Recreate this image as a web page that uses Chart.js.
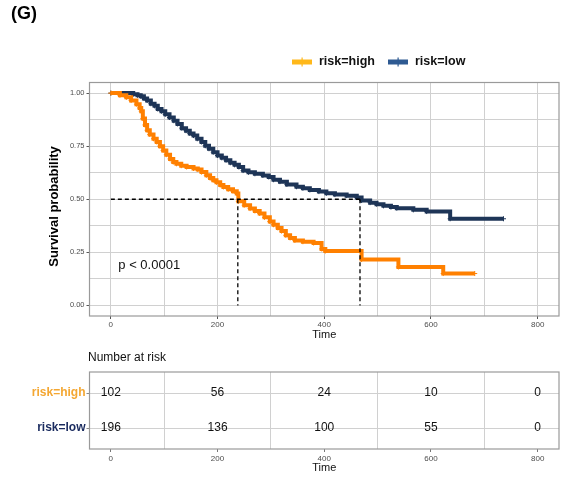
<!DOCTYPE html>
<html><head><meta charset="utf-8">
<script src="https://cdn.jsdelivr.net/npm/chart.js@4"></script>
<style>
html,body{margin:0;padding:0;background:#fff;}
#wrap{position:relative;width:569px;height:481px;background:#fff;}
#c1{position:absolute;left:0;top:0;width:569px;height:345px;}
#c2{position:absolute;left:0;top:345px;width:569px;height:136px;}
</style></head><body>
<div id="wrap">
<canvas id="c1" width="569" height="345"></canvas>
<canvas id="c2" width="569" height="136"></canvas>
</div>
<script>
// ---- data ----
const highTimes = [0,17,29,38,48,54,57,60,64,68,73,80,86,92,98,104,111,117,123,132,142,155,163,170,179,186,192,198,205,211,220,229,236,239,250,261,270,279,288,298,305,313,320,328,336,345,360,380,395,402,470,539,623,682];
const highSurv  = [1.0,0.99,0.98,0.965,0.948,0.93,0.915,0.88,0.85,0.825,0.805,0.785,0.77,0.75,0.73,0.71,0.69,0.675,0.667,0.658,0.652,0.645,0.64,0.628,0.613,0.60,0.59,0.58,0.567,0.558,0.547,0.538,0.527,0.49,0.472,0.456,0.445,0.433,0.415,0.395,0.38,0.365,0.35,0.33,0.318,0.306,0.30,0.294,0.266,0.256,0.216,0.181,0.15,0.15];
const lowTimes  = [0,42,50,56,62,68,75,82,88,95,102,110,118,125,133,141,148,155,162,170,177,184,192,200,208,216,224,232,240,248,258,270,285,296,305,317,330,348,360,373,390,404,420,442,461,470,486,498,511,525,536,567,592,636,736];
const lowSurv   = [1.0,0.995,0.99,0.985,0.975,0.965,0.95,0.94,0.925,0.915,0.90,0.885,0.87,0.855,0.835,0.823,0.81,0.80,0.785,0.77,0.752,0.738,0.722,0.706,0.695,0.684,0.672,0.662,0.652,0.635,0.627,0.62,0.612,0.605,0.592,0.583,0.57,0.559,0.552,0.544,0.536,0.528,0.522,0.517,0.508,0.494,0.484,0.477,0.469,0.463,0.458,0.45,0.442,0.408,0.408];
const medianHigh = 238;
const medianLow = 467;
const pText = "p < 0.0001";
const xTicks = [0,100,200,300,400,500,600,700,800];
const yTicks = [0,0.125,0.25,0.375,0.5,0.625,0.75,0.875,1];
const riskTimes = [0,200,400,600,800];
const riskHigh = [102,56,24,10,0];
const riskLow  = [196,136,100,55,0];
const groupNames = ["risk=high","risk=low"];

// ---- styles ----
const FONT = "'Liberation Sans', Arial, sans-serif";
const cHigh = '#FF8000', cLow = '#1E3557';
const cLegHigh = '#FFB81A', cLegLow = '#2E5A92';
const cTabHigh = '#F4A732', cTabLow = '#1A2B5F';
const gridCol = '#d0d0d0';

const isMajorY = v => Math.abs(v*4 - Math.round(v*4)) < 1e-9;
const isMajorX = v => Math.abs(v/200 - Math.round(v/200)) < 1e-9;

const borderPlugin = {
  id: 'panelBorder',
  afterDatasetsDraw(chart) {
    const {ctx, chartArea: a} = chart;
    ctx.save();
    ctx.strokeStyle = '#9a9a9a';
    ctx.lineWidth = 1.2;
    ctx.strokeRect(a.left, a.top, a.right - a.left, a.bottom - a.top);
    ctx.restore();
  }
};

const annoPlugin = {
  id: 'anno',
  afterDraw(chart) {
    const {ctx} = chart;
    const xs = chart.scales.x, ys = chart.scales.y;
    ctx.save();
    ctx.fillStyle = '#000';
    ctx.font = `bold 18px ${FONT}`;
    ctx.textBaseline = 'middle';
    ctx.textAlign = 'left';
    ctx.fillText('(G)', 11, 14);
    const items = [
      {x: 292, col: cLegHigh, text: groupNames[0]},
      {x: 388, col: cLegLow, text: groupNames[1]}
    ];
    items.forEach(it => {
      ctx.fillStyle = it.col;
      ctx.fillRect(it.x, 59.5, 20, 5);
      ctx.fillRect(it.x + 9.5, 57.5, 1.2, 9);
      ctx.fillStyle = '#111';
      ctx.font = `bold 12.5px ${FONT}`;
      ctx.fillText(it.text, it.x + 27, 62);
    });
    ctx.font = `13px ${FONT}`;
    ctx.fillStyle = '#111';
    ctx.fillText(pText, xs.getPixelForValue(14), ys.getPixelForValue(0.19));
    ctx.restore();
  }
};

const pts = (ts, ss) => ts.map((t, i) => ({x: t, y: ss[i]}));
const dash = {borderColor:'#000', borderWidth:1.3, borderDash:[4,3], pointRadius:0, order:0};

new Chart(document.getElementById('c1'), {
  type: 'line',
  data: {
    datasets: [
      Object.assign({label: 'mh', data: [{x:0,y:0.5},{x:medianLow,y:0.5}]}, dash),
      Object.assign({label: 'vh', data: [{x:medianHigh,y:0.5},{x:medianHigh,y:0}]}, dash),
      Object.assign({label: 'vl', data: [{x:medianLow,y:0.5},{x:medianLow,y:0}]}, dash),
      {label: groupNames[1], data: pts(lowTimes, lowSurv), stepped: true, borderColor: cLow, backgroundColor: cLow, borderWidth: 4, pointStyle:'cross', pointRadius: 2.5, pointBorderWidth: 1, pointBorderColor: cLow, order: 2},
      {label: groupNames[0], data: pts(highTimes, highSurv), stepped: true, borderColor: cHigh, backgroundColor: cHigh, borderWidth: 4, pointStyle:'cross', pointRadius: 2.5, pointBorderWidth: 1, pointBorderColor: cHigh, order: 1}
    ]
  },
  options: {
    responsive: false,
    animation: false,
    events: [],
    layout: {padding: {top: 82.5, right: 10, bottom: 0, left: 0}},
    plugins: {legend: {display: false}, tooltip: {enabled: false}},
    scales: {
      x: {
        type: 'linear', min: -40, max: 840,
        afterBuildTicks: s => { s.ticks = xTicks.map(v => ({value: v})); },
        afterFit: s => { s.height = 29; },
        ticks: {font: {size: 8, family: FONT}, color: '#4d4d4d', padding: 1, maxRotation: 0, autoSkip: false,
                callback: v => isMajorX(v) ? String(v) : ''},
        grid: {color: gridCol, lineWidth: 1, tickLength: 3,
               tickColor: c => (c.tick && isMajorX(c.tick.value)) ? '#555' : 'rgba(0,0,0,0)'},
        border: {display: false},
        title: {display: true, text: 'Time', font: {size: 11, family: FONT}, color: '#111', padding: {top: 0, bottom: 3}}
      },
      y: {
        type: 'linear', min: -0.05, max: 1.05,
        afterBuildTicks: s => { s.ticks = yTicks.map(v => ({value: v})); },
        afterFit: s => { s.width = 89.5; },
        ticks: {font: {size: 7.5, family: FONT}, color: '#4d4d4d', padding: 2, autoSkip: false,
                callback: v => isMajorY(v) ? v.toFixed(2) : ''},
        grid: {color: gridCol, lineWidth: 1, tickLength: 3,
               tickColor: c => (c.tick && isMajorY(c.tick.value)) ? '#555' : 'rgba(0,0,0,0)'},
        border: {display: false},
        title: {display: true, text: 'Survival probability    ', font: {size: 13, weight: 'bold', family: FONT}, color: '#000', padding: {top: 47, bottom: 0}}
      }
    }
  },
  plugins: [borderPlugin, annoPlugin]
});

// ---- risk table ----
const tablePlugin = {
  id: 'table',
  afterDraw(chart) {
    const {ctx} = chart;
    const xs = chart.scales.x, ys = chart.scales.y;
    ctx.save();
    ctx.fillStyle = '#111';
    ctx.font = `12px ${FONT}`;
    ctx.textAlign = 'left';
    ctx.textBaseline = 'alphabetic';
    ctx.fillText('Number at risk', 88, 16);
    ctx.textAlign = 'center';
    ctx.textBaseline = 'middle';
    riskTimes.forEach((t, i) => {
      ctx.fillText(String(riskHigh[i]), xs.getPixelForValue(t), ys.getPixelForValue(2));
      ctx.fillText(String(riskLow[i]), xs.getPixelForValue(t), ys.getPixelForValue(1));
    });
    ctx.restore();
  }
};

new Chart(document.getElementById('c2'), {
  type: 'scatter',
  data: {datasets: []},
  options: {
    responsive: false,
    animation: false,
    events: [],
    layout: {padding: {top: 27, right: 10, bottom: 0, left: 0}},
    plugins: {legend: {display: false}, tooltip: {enabled: false}},
    scales: {
      x: {
        type: 'linear', min: -40, max: 840,
        afterBuildTicks: s => { s.ticks = xTicks.map(v => ({value: v})); },
        afterFit: s => { s.height = 32; },
        ticks: {font: {size: 8, family: FONT}, color: '#4d4d4d', padding: 2, maxRotation: 0, autoSkip: false,
                callback: v => isMajorX(v) ? String(v) : ''},
        grid: {color: c => (c.tick && isMajorX(c.tick.value)) ? 'rgba(0,0,0,0)' : gridCol, lineWidth: 1, tickLength: 3,
               tickColor: c => (c.tick && isMajorX(c.tick.value)) ? '#777' : 'rgba(0,0,0,0)'},
        border: {display: false},
        title: {display: true, text: 'Time', font: {size: 11, family: FONT}, color: '#111', padding: {top: 0, bottom: 6}}
      },
      y: {
        type: 'linear', min: 0.4, max: 2.6,
        afterBuildTicks: s => { s.ticks = [{value: 1}, {value: 2}]; },
        afterFit: s => { s.width = 89.5; },
        ticks: {font: {size: 12, weight: 'bold', family: FONT}, padding: 1, autoSkip: false,
                color: c => c.tick.value === 2 ? cTabHigh : cTabLow,
                callback: v => v === 2 ? groupNames[0] : groupNames[1]},
        grid: {color: gridCol, lineWidth: 1, tickLength: 3, tickColor: '#888'},
        border: {display: false}
      }
    }
  },
  plugins: [borderPlugin, tablePlugin]
});
</script>
</body></html>
